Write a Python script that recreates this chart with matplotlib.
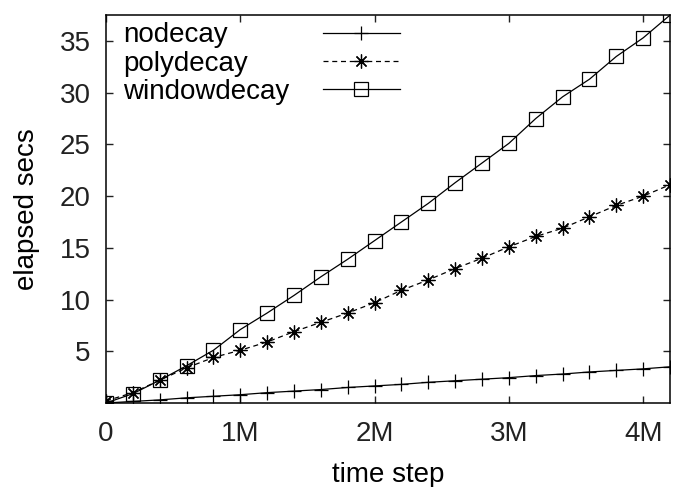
import matplotlib
matplotlib.use("Agg")
import matplotlib.pyplot as plt

plt.rcParams['font.family'] = ['Liberation Sans', 'DejaVu Sans']
plt.rcParams['font.size'] = 20

# time steps (every 200k up to 4.2M)
steps = [0, 200000, 400000, 600000, 800000, 1000000, 1200000, 1400000,
         1600000, 1800000, 2000000, 2200000, 2400000, 2600000, 2800000,
         3000000, 3200000, 3400000, 3600000, 3800000, 4000000, 4200000]

# elapsed seconds
nodecay = [0, 0.15, 0.3, 0.5, 0.65, 0.8, 1.0, 1.15, 1.3, 1.5, 1.65,
           1.8, 2.0, 2.15, 2.3, 2.45, 2.65, 2.8, 3.0, 3.15, 3.3, 3.5]
polydecay = [0.2, 1.0, 2.2, 3.4, 4.4, 5.1, 5.9, 6.9, 7.8, 8.7, 9.7,
             10.9, 11.9, 13.0, 14.0, 15.1, 16.1, 16.9, 18.0, 19.1, 20.0, 21.1]
windowdecay = [0, 0.9, 2.2, 3.6, 5.1, 7.1, 8.7, 10.4, 12.2, 13.9, 15.7,
               17.5, 19.3, 21.3, 23.2, 25.1, 27.5, 29.6, 31.3, 33.5, 35.3, 37.5]

xtick_vals = [0, 1000000, 2000000, 3000000, 4000000]
xtick_labels = ['0', '1M', '2M', '3M', '4M']
ytick_vals = [5, 10, 15, 20, 25, 30, 35]

fig = plt.figure(figsize=(6.77, 4.87), dpi=100)
ax = fig.add_axes([0.1566, 0.1725, 0.8331, 0.7965])

ax.plot(steps, nodecay, c='black', lw=0.9, marker='+', ms=10, mew=0.9,
        label='nodecay')
ax.plot(steps, polydecay, c='black', lw=0.9, ls=(0, (4, 3)), marker=(8, 2, 0),
        ms=10, mew=0.9, label='polydecay')
ax.plot(steps, windowdecay, c='black', lw=0.9, marker='s', ms=9.5, mew=0.9,
        mfc='none', label='windowdecay')

ax.set_xlim(0, 4200000)
ax.set_ylim(0, 37.5)
ax.set_xticks(xtick_vals)
ax.set_xticklabels(xtick_labels)
ax.set_yticks(ytick_vals)
ax.tick_params(direction='in', top=True, right=True, length=5, width=1,
               colors='#222222')
ax.tick_params(axis='x', pad=13)
ax.tick_params(axis='y', pad=11)
for s in ax.spines.values():
    s.set_linewidth(1.1)

ax.set_xlabel("time step", labelpad=11)
ax.set_ylabel("elapsed secs", labelpad=14)

leg = ax.legend(loc='upper left', bbox_to_anchor=(0.03, 0.981), frameon=False,
                markerfirst=False, handlelength=2.8, handletextpad=1.2,
                labelspacing=0.08, borderpad=0, borderaxespad=0)

# gnuplot keeps key text left aligned: pad the shorter labels
fig.canvas.draw()
r = fig.canvas.get_renderer()
widths = [t.get_window_extent(r).width for t in leg.get_texts()]
rows = leg._legend_handle_box.get_children()[0].get_children()
for row, w in zip(rows, widths):
    row.sep += (max(widths) - w) * 72 / fig.dpi

fig.savefig("out.png", dpi=100)
